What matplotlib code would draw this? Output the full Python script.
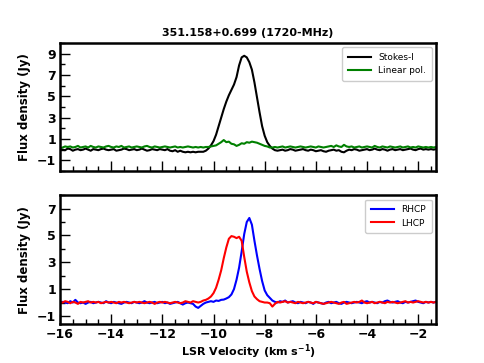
import numpy as np
import matplotlib
matplotlib.use("Agg")
import matplotlib.pyplot as plt
from matplotlib.ticker import MultipleLocator

# ---------------------------------------------------------------------------
# Spectra of 351.158+0.699 (1720 MHz), channels every 0.1 km/s from -16.0
# Each series: [-16.0 .. -10.6] + [-10.5 .. -7.6] + [-7.5 .. -1.3]
# ---------------------------------------------------------------------------
stokes_i = [
    0.05, 0.0, -0.05, 0.1, 0.05, -0.1, 0.0, 0.05, -0.05, 0.0,
    0.1, 0.0, -0.1, 0.05, 0.0, -0.05, 0.05, 0.1, 0.0, -0.05,
    0.0, 0.05, -0.1, -0.05, 0.0, 0.1, 0.05, -0.05, 0.0, 0.05,
    -0.05, 0.0, 0.1, 0.0, -0.1, -0.05, 0.05, 0.0, -0.05, 0.05,
    0.0, -0.05, 0.05, -0.1, -0.15, -0.05, -0.2, -0.1, -0.2, -0.25,
    -0.2, -0.25, -0.2, -0.25, -0.2,
    -0.2, -0.2, -0.1, 0.1, 0.4, 0.8, 1.4, 2.2, 3.0, 3.8,
    4.5, 5.1, 5.6, 6.1, 6.8, 7.9, 8.65, 8.8, 8.65, 8.2,
    7.5, 6.3, 4.9, 3.5, 2.2, 1.3, 0.7, 0.35, 0.1, -0.05,
    -0.1, -0.05, 0.0, -0.1, -0.05, 0.05, 0.0, -0.1, -0.05, 0.0,
    0.05, -0.05, -0.1, 0.0, -0.05, -0.15, -0.1, -0.05, -0.15, -0.2,
    -0.1, -0.05, 0.0, -0.1, -0.05, -0.2, -0.25, -0.1, 0.0, -0.05,
    0.05, 0.0, -0.1, -0.05, 0.0, 0.05, -0.05, 0.0, 0.1, 0.0,
    -0.05, 0.05, 0.0, -0.1, 0.0, 0.05, -0.05, 0.0, 0.05, -0.05,
    0.0, 0.05, 0.1, 0.0, -0.05, 0.05, 0.1, 0.0, 0.05, 0.0,
    0.05, 0.0, 0.05,
]

linear_pol = [
    0.15, 0.2, 0.3, 0.25, 0.3, 0.2, 0.25, 0.35, 0.2, 0.25,
    0.3, 0.2, 0.35, 0.25, 0.2, 0.3, 0.25, 0.2, 0.3, 0.35,
    0.25, 0.2, 0.3, 0.25, 0.35, 0.2, 0.25, 0.3, 0.2, 0.25,
    0.3, 0.25, 0.2, 0.3, 0.35, 0.25, 0.2, 0.3, 0.25, 0.2,
    0.25, 0.3, 0.25, 0.2, 0.25, 0.3, 0.2, 0.25, 0.2, 0.25,
    0.3, 0.25, 0.2, 0.25, 0.2,
    0.25, 0.2, 0.25, 0.25, 0.3, 0.35, 0.4, 0.55, 0.7, 0.9,
    0.7, 0.75, 0.55, 0.5, 0.35, 0.45, 0.6, 0.55, 0.7, 0.65,
    0.75, 0.7, 0.65, 0.55, 0.45, 0.35, 0.3, 0.2, 0.2, 0.25,
    0.2, 0.25, 0.3, 0.2, 0.25, 0.3, 0.25, 0.2, 0.25, 0.3,
    0.25, 0.2, 0.25, 0.3, 0.25, 0.2, 0.3, 0.25, 0.2, 0.25,
    0.3, 0.35, 0.25, 0.4, 0.3, 0.25, 0.45, 0.3, 0.25, 0.3,
    0.2, 0.25, 0.3, 0.2, 0.25, 0.3, 0.25, 0.2, 0.35, 0.25,
    0.2, 0.3, 0.25, 0.2, 0.3, 0.25, 0.2, 0.25, 0.3, 0.2,
    0.25, 0.3, 0.2, 0.25, 0.2, 0.3, 0.25, 0.2, 0.25, 0.2,
    0.25, 0.2, 0.25,
]

rhcp = [
    0.0, 0.05, 0.0, -0.05, 0.1, 0.0, 0.2, 0.0, -0.05, 0.0,
    -0.1, 0.0, 0.05, -0.05, 0.0, 0.05, 0.0, -0.05, 0.1, 0.0,
    -0.05, 0.05, 0.0, -0.05, -0.1, 0.0, 0.05, 0.0, -0.05, 0.05,
    0.0, -0.05, 0.0, 0.1, 0.0, -0.05, 0.0, 0.05, -0.05, 0.0,
    0.05, -0.05, 0.0, -0.1, -0.05, 0.0, 0.05, -0.05, -0.15, -0.05,
    0.0, -0.05, -0.1, -0.3, -0.4,
    -0.25, -0.1, 0.0, 0.05, 0.1, 0.05, 0.15, 0.12, 0.2, 0.22,
    0.3, 0.4, 0.6, 1.0, 1.7, 2.6, 3.8, 5.1, 6.0, 6.3,
    5.8, 4.6, 3.5, 2.5, 1.6, 0.9, 0.55, 0.35, 0.15, 0.05,
    0.0, 0.1, 0.05, 0.15, 0.0, 0.05, 0.1, 0.0, -0.05, 0.05,
    0.0, -0.05, 0.05, 0.0, -0.1, 0.05, 0.0, -0.05, -0.1, 0.0,
    0.05, -0.05, 0.0, 0.05, -0.05, -0.1, 0.0, 0.05, 0.0, -0.05,
    0.0, 0.05, 0.0, -0.05, 0.05, 0.1, 0.0, 0.05, 0.0, -0.05,
    0.05, 0.0, 0.1, 0.15, 0.05, 0.0, 0.05, 0.1, 0.0, -0.05,
    0.05, 0.0, 0.05, 0.1, 0.15, 0.05, 0.0, -0.05, 0.05, 0.0,
    0.05, 0.0, 0.05,
]

lhcp = [
    0.05, 0.0, 0.1, 0.05, -0.05, 0.05, 0.0, -0.1, 0.05, 0.0,
    0.05, 0.1, 0.0, 0.05, 0.0, 0.05, -0.05, 0.0, 0.05, 0.0,
    0.05, 0.0, -0.05, 0.05, 0.0, 0.05, 0.0, -0.05, 0.0, 0.05,
    0.0, 0.05, 0.0, -0.05, 0.0, 0.05, 0.0, -0.1, 0.0, 0.05,
    0.0, 0.05, 0.0, -0.05, 0.0, 0.05, 0.0, -0.05, 0.0, 0.1,
    0.05, 0.0, 0.1, 0.05, 0.0,
    0.05, 0.15, 0.2, 0.3, 0.45, 0.7, 1.1, 1.7, 2.4, 3.3,
    4.1, 4.75, 4.95, 4.9, 4.8, 4.9, 4.6, 3.4, 2.3, 1.5,
    0.85, 0.45, 0.25, 0.1, 0.05, 0.0, 0.0, -0.05, -0.3, -0.1,
    0.05, 0.0, 0.05, 0.1, 0.0, 0.05, 0.0, -0.05, 0.05, 0.0,
    -0.05, 0.0, 0.05, 0.0, -0.05, 0.05, 0.0, -0.05, -0.1, -0.05,
    0.0, 0.05, 0.0, -0.05, -0.1, 0.0, 0.05, -0.1, -0.05, 0.0,
    0.05, 0.0, 0.05, 0.15, 0.0, -0.05, 0.0, 0.05, -0.05, 0.0,
    0.05, 0.0, -0.05, 0.05, 0.0, 0.05, 0.0, -0.05, 0.0, 0.05,
    0.1, 0.0, 0.05, 0.0, 0.05, 0.1, 0.05, 0.0, 0.05, 0.0,
    0.05, 0.0, 0.05,
]

# channel grid
velocity = np.round(-16.0 + 0.1 * np.arange(len(stokes_i)), 2)

title = "351.158+0.699 (1720-MHz)"

# ---------------------------------------------------------------------------
fig = plt.figure(figsize=(4.84, 3.63), dpi=100)
ax_top = fig.add_axes([0.124, 0.529, 0.777, 0.3526])
ax_bot = fig.add_axes([0.124, 0.1074, 0.777, 0.355])

ax_top.plot(velocity, stokes_i, color='black', lw=1.5, label='Stokes-I')
ax_top.plot(velocity, linear_pol, color='green', lw=1.5, label='Linear pol.')
ax_bot.plot(velocity, rhcp, color='blue', lw=1.5, label='RHCP')
ax_bot.plot(velocity, lhcp, color='red', lw=1.5, label='LHCP')

ax_top.set_ylim(-2, 10)
ax_bot.set_ylim(-1.6, 8)
ax_top.set_yticks([-1, 1, 3, 5, 7, 9])
ax_bot.set_yticks([-1, 1, 3, 5, 7])

for ax in (ax_top, ax_bot):
    ax.set_xlim(-16, -1.3)
    ax.xaxis.set_major_locator(MultipleLocator(2))
    ax.xaxis.set_minor_locator(MultipleLocator(0.5))
    ax.yaxis.set_minor_locator(MultipleLocator(1))
    ax.tick_params(which='both', direction='in', top=False, right=False,
                   labelsize=9, width=1)
    ax.tick_params(which='major', length=7, pad=3)
    ax.tick_params(which='minor', length=3.5)
    for lab in ax.get_xticklabels() + ax.get_yticklabels():
        lab.set_fontweight('bold')
    for sp in ax.spines.values():
        sp.set_linewidth(1.8)
    ax.set_ylabel('Flux density (Jy)', fontsize=8.5, fontweight='bold')
    ax.legend(loc='upper right', fontsize=6.5, handlelength=2.6,
              borderpad=0.6, labelspacing=0.5, framealpha=1,
              edgecolor='#cccccc')

ax_top.tick_params(labelbottom=False)
ax_top.set_title(title, fontsize=8, fontweight='bold', pad=5)
ax_bot.set_xlabel(r'LSR Velocity (km s$^{\mathbf{-1}}$)', fontsize=8,
                  fontweight='bold', labelpad=1)

fig.savefig('out.png', dpi=100)
